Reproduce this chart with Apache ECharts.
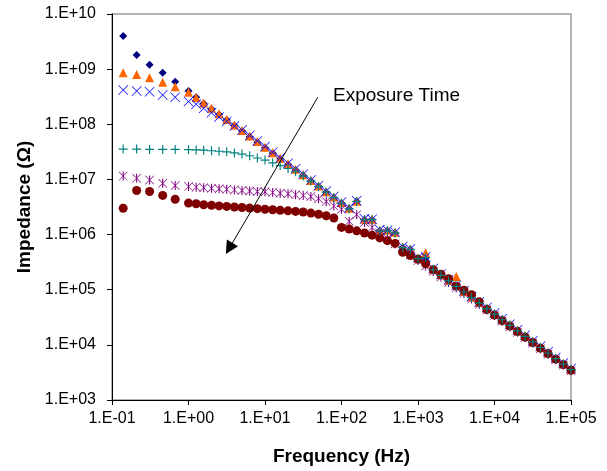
<!DOCTYPE html>
<html>
<head>
<meta charset="utf-8">
<script src="https://cdn.jsdelivr.net/npm/echarts@6/dist/echarts.min.js"></script>
<style>
html,body{margin:0;padding:0;background:#fff;}
#c{width:607px;height:471px;}
</style>
</head>
<body>
<div id="c"></div>
<script>
// Frequencies (Hz)
const freq = [0.14, 0.21, 0.31, 0.46, 0.67,
  1, 1.26, 1.58, 2, 2.51, 3.16, 3.98, 5.01, 6.31, 7.94,
  10, 12.6, 15.8, 20, 25.1, 31.6, 39.8, 50.1, 63.1, 79.4,
  100, 126, 158, 200, 251, 316, 398, 501, 631, 794,
  1000, 1259, 1585, 1995, 2512, 3162, 3981, 5012, 6310, 7943,
  10000, 12589, 15849, 19953, 25119, 31623, 39811, 50119, 63096, 79433, 100000];

// Impedance (Ohm) per exposure time, shortest first
const navy = [4.0e9, 1.8e9, 1.2e9, 8.6e8, 5.9e8,
  4.0e8, 3.1e8, 2.39e8, 1.90e8, 1.51e8, 1.19e8, 9.47e7, 7.52e7, 5.96e7, 4.73e7,
  3.75e7, 2.97e7, 2.36e7, 1.87e7, 1.49e7, 1.18e7, 9.33e6, 7.41e6, 5.87e6, 4.67e6,
  3.70e6, 2.93e6, 3.98e6, 1.85e6, 1.86e6, 1.16e6, 1.17e6, 1.07e6, 5.79e5, 5.37e5,
  3.65e5, 3.8e5, 2.30e5, 1.82e5, 1.45e5, 1.15e5, 9.08e4, 7.21e4, 5.71e4, 4.54e4,
  3.60e4, 2.85e4, 2.26e4, 1.79e4, 1.43e4, 1.13e4, 8.95e3, 7.11e3, 5.64e3, 4.48e3, 3.55e3];
const orange = [8.6e8, 8.0e8, 7.0e8, 5.8e8, 4.8e8,
  3.8e8, 3.05e8, 2.44e8, 1.95e8, 1.55e8, 1.22e8, 9.7e7, 7.7e7, 6.1e7, 4.85e7,
  3.85e7, 3.05e7, 2.42e7, 1.92e7, 1.53e7, 1.21e7, 9.6e6, 7.6e6, 6.0e6, 4.8e6,
  3.8e6, 3.0e6, 4.0e6, 1.9e6, 1.9e6, 1.2e6, 1.2e6, 1.1e6, 5.9e5, 5.5e5,
  3.75e5, 4.68e5, 2.36e5, 1.87e5, 1.49e5, 1.74e5, 9.3e4, 7.4e4, 5.85e4, 4.65e4,
  3.7e4, 2.92e4, 2.32e4, 1.84e4, 1.47e4, 1.16e4, 9.2e3, 7.3e3, 5.8e3, 4.6e3, 3.65e3];
const blue = [4.2e8, 4.0e8, 3.9e8, 3.4e8, 3.1e8,
  2.6e8, 2.3e8, 1.95e8, 1.62e8, 1.35e8, 1.12e8, 9.3e7, 7.9e7, 6.25e7, 4.97e7,
  3.94e7, 3.12e7, 2.48e7, 1.96e7, 1.56e7, 1.24e7, 9.8e6, 7.8e6, 6.16e6, 4.9e6,
  3.89e6, 3.08e6, 4.1e6, 1.94e6, 1.9e6, 1.22e6, 1.2e6, 1.1e6, 6.08e5, 5.5e5,
  3.83e5, 3.9e5, 2.42e5, 1.91e5, 1.52e5, 1.21e5, 9.53e4, 7.57e4, 6.0e4, 4.77e4,
  3.78e4, 2.99e4, 2.37e4, 1.88e4, 1.5e4, 1.19e4, 9.4e3, 7.47e3, 5.92e3, 4.7e3, 3.73e3];
const teal = [3.55e7, 3.55e7, 3.5e7, 3.5e7, 3.5e7,
  3.47e7, 3.43e7, 3.39e7, 3.31e7, 3.24e7, 3.16e7, 3.02e7, 2.88e7, 2.69e7, 2.45e7,
  2.24e7, 2.0e7, 1.78e7, 1.58e7, 1.38e7, 1.15e7, 9.33e6, 7.41e6, 5.87e6, 4.67e6,
  3.70e6, 2.93e6, 3.98e6, 1.85e6, 1.86e6, 1.16e6, 1.17e6, 1.07e6, 5.79e5, 5.37e5,
  3.65e5, 3.8e5, 2.30e5, 1.82e5, 1.45e5, 1.15e5, 9.08e4, 7.21e4, 5.71e4, 4.54e4,
  3.60e4, 2.85e4, 2.26e4, 1.79e4, 1.43e4, 1.13e4, 8.95e3, 7.11e3, 5.64e3, 4.48e3, 3.55e3];
const purple = [1.15e7, 1.05e7, 9.77e6, 8.51e6, 7.76e6,
  7.41e6, 7.24e6, 7.08e6, 6.92e6, 6.76e6, 6.61e6, 6.46e6, 6.31e6, 6.17e6, 6.03e6,
  5.96e6, 5.82e6, 5.62e6, 5.50e6, 5.25e6, 5.13e6, 4.90e6, 4.47e6, 3.98e6, 3.31e6,
  2.88e6, 1.74e6, 2.29e6, 1.66e6, 1.35e6, 1.07e6, 8.51e5, 6.76e5, 5.37e5, 4.27e5,
  3.39e5, 2.69e5, 2.14e5, 1.70e5, 1.35e5, 1.07e5, 8.51e4, 6.76e4, 5.37e4, 4.27e4,
  3.39e4, 2.69e4, 2.14e4, 1.70e4, 1.35e4, 1.07e4, 8.51e3, 6.76e3, 5.37e3, 4.27e3, 3.39e3];
const maroon = [3.0e6, 6.3e6, 6.03e6, 5.13e6, 4.37e6,
  3.72e6, 3.63e6, 3.47e6, 3.39e6, 3.31e6, 3.24e6, 3.16e6, 3.09e6, 3.02e6, 2.95e6,
  2.88e6, 2.82e6, 2.75e6, 2.69e6, 2.63e6, 2.57e6, 2.45e6, 2.34e6, 2.19e6, 2.00e6,
  1.35e6, 1.26e6, 1.17e6, 1.07e6, 9.77e5, 8.71e5, 7.76e5, 6.92e5, 4.79e5, 4.17e5,
  3.55e5, 2.95e5, 2.29e5, 1.91e5, 1.58e5, 1.17e5, 9.77e4, 8.13e4, 6.03e4, 4.37e4,
  3.47e4, 2.75e4, 2.19e4, 1.74e4, 1.38e4, 1.10e4, 8.71e3, 6.92e3, 5.50e3, 4.37e3, 3.47e3];

// Annotation arrow (data coordinates)
const arrowFrom = [49, 3.1e8];
const arrowTo = [3.4, 5.6e5];

const FONT = 'Liberation Sans, Arial, sans-serif';
const PLUS = 'path://M4.35,0H5.65V4.35H10V5.65H5.65V10H4.35V5.65H0V4.35H4.35Z';
const XMARK = 'path://M0.5,0L10,9.5L9.5,10L0,0.5Z M9.5,0L10,0.5L0.5,10L0,9.5Z';
const STAR = 'path://M4.4,0H5.6V10H4.4Z M0.5,0L10,9.5L9.5,10L0,0.5Z M9.5,0L10,0.5L0.5,10L0,9.5Z';

function sci(v) {
  const e = Math.round(Math.log10(v));
  const a = Math.abs(e);
  return '1.E' + (e < 0 ? '-' : '+') + (a < 10 ? '0' + a : a);
}
function pts(arr) { return freq.map((f, i) => [f, arr[i]]); }

const chart = echarts.init(document.getElementById('c'), null, {renderer: 'canvas'});
chart.setOption({
  animation: false,
  backgroundColor: '#fff',
  grid: {left: 112, right: 36, top: 14, bottom: 67, show: true, borderColor: '#9a9a9a', borderWidth: 1.5, backgroundColor: 'transparent'},
  xAxis: {
    type: 'log', logBase: 10, min: 0.1, max: 1e5, splitNumber: 6,
    name: 'Frequency (Hz)', nameLocation: 'middle', nameGap: 47,
    nameTextStyle: {fontFamily: FONT, fontSize: 19, fontWeight: 'bold', color: '#000'},
    axisLine: {lineStyle: {color: '#000', width: 1}},
    axisTick: {show: true, length: 5, lineStyle: {color: '#000'}},
    axisLabel: {formatter: sci, fontFamily: FONT, fontSize: 16, color: '#000', margin: 11},
    splitLine: {show: false}
  },
  yAxis: {
    type: 'log', logBase: 10, min: 1e3, max: 1e10, splitNumber: 7,
    name: 'Impedance (\u03A9)', nameLocation: 'middle', nameGap: 76,
    nameTextStyle: {fontFamily: FONT, fontSize: 19, fontWeight: 'bold', color: '#000'},
    axisLine: {lineStyle: {color: '#000', width: 1}},
    axisTick: {show: true, length: 5, lineStyle: {color: '#000'}},
    axisLabel: {formatter: sci, fontFamily: FONT, fontSize: 16, color: '#000', margin: 16},
    splitLine: {show: false}
  },
  graphic: [{
    type: 'text', left: 333, top: 86,
    style: {text: 'Exposure Time', fontFamily: FONT, fontSize: 19, fill: '#000'}
  }],
  series: [
    {type: 'scatter', name: 'navy', data: pts(navy), symbol: 'diamond', symbolSize: 8,
     itemStyle: {color: '#000080', opacity: 1},
     markLine: {silent: true, symbol: ['none', 'triangle'], symbolSize: 13,
       label: {show: false}, lineStyle: {color: '#000', width: 1, type: 'solid'},
       data: [[{coord: arrowFrom}, {coord: arrowTo}]]}},
    {type: 'scatter', name: 'orange', data: pts(orange), symbol: 'triangle', symbolSize: 9,
     itemStyle: {color: '#FF6600', opacity: 1}},
    {type: 'scatter', name: 'blue', data: pts(blue), symbol: XMARK, symbolSize: 10,
     itemStyle: {color: '#0000FF', opacity: 1}},
    {type: 'scatter', name: 'purple', data: pts(purple), symbol: STAR, symbolSize: 9,
     itemStyle: {color: '#800080', opacity: 1}},
    {type: 'scatter', name: 'maroon', data: pts(maroon), symbol: 'circle', symbolSize: 9,
     itemStyle: {color: '#800000', opacity: 1}},
    {type: 'scatter', name: 'teal', data: pts(teal), symbol: PLUS, symbolSize: 9,
     itemStyle: {color: '#008080', opacity: 1}}
  ]
});
</script>
</body>
</html>
